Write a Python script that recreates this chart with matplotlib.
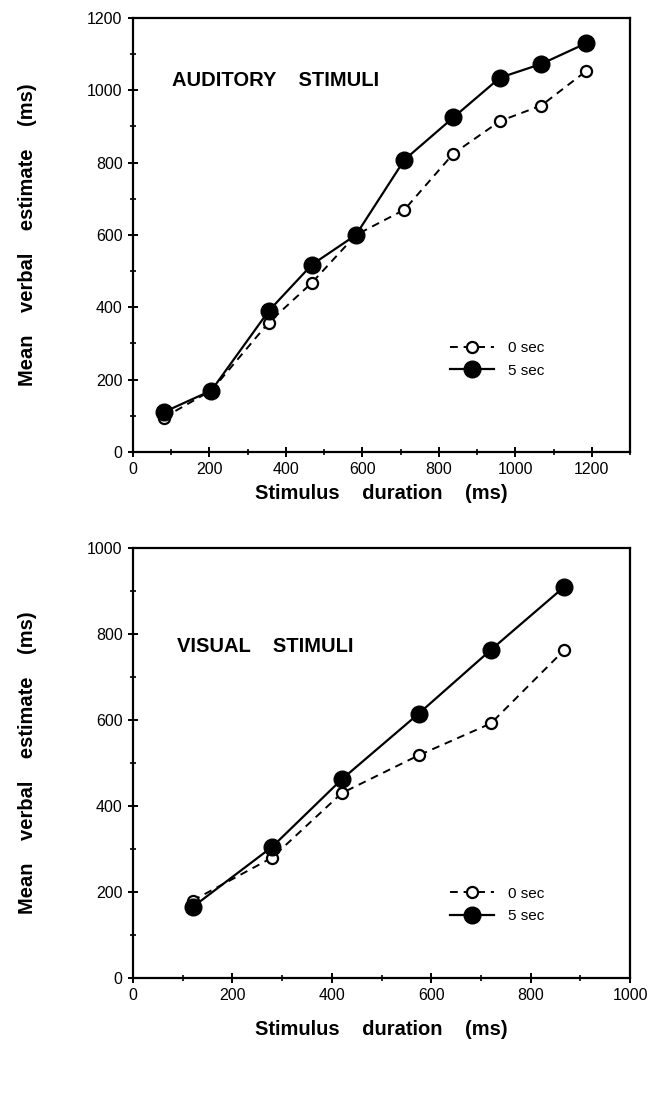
import matplotlib
matplotlib.use("Agg")
import matplotlib.pyplot as plt
from matplotlib.ticker import MultipleLocator

plt.rcParams['font.family'] = ['Liberation Sans', 'DejaVu Sans']

# Auditory stimuli
aud_x = [80, 205, 355, 468, 583, 710, 838, 960, 1068, 1185]
aud_0sec = [95, 170, 358, 468, 600, 670, 825, 915, 958, 1053]
aud_5sec = [110, 170, 390, 518, 600, 808, 925, 1035, 1073, 1130]

# Visual stimuli
vis_x = [120, 280, 420, 575, 720, 868]
vis_0sec = [180, 280, 430, 518, 592, 763]
vis_5sec = [165, 305, 462, 615, 763, 910]

W, H = 661, 1094
fig = plt.figure(figsize=(W / 100, H / 100), dpi=100)

def make_axes(left, top, right, bottom):
    return fig.add_axes([left / W, 1 - bottom / H, (right - left) / W, (bottom - top) / H])

ax1 = make_axes(133, 18, 630, 452)
ax2 = make_axes(133, 548, 630, 978)

def style(ax, xmax, ymax, title, title_pos, leg_anchor, xpad):
    ax.set_xlim(0, xmax)
    ax.set_ylim(0, ymax)
    ax.xaxis.set_major_locator(MultipleLocator(200))
    ax.xaxis.set_minor_locator(MultipleLocator(100))
    ax.yaxis.set_major_locator(MultipleLocator(200))
    ax.yaxis.set_minor_locator(MultipleLocator(100))
    for s in ax.spines.values():
        s.set_linewidth(1.6)
    ax.tick_params(which='major', direction='inout', length=7, width=1.4,
                   labelsize=11.5, pad=4)
    ax.tick_params(which='minor', direction='inout', length=5, width=1.2)
    for lab in ax.get_xticklabels() + ax.get_yticklabels():
        lab.set_fontfamily(['Liberation Sans Narrow', 'Liberation Sans'])
    ax.set_xlabel('Stimulus    duration    (ms)', fontsize=14.5, fontweight='bold', labelpad=xpad)
    ax.set_ylabel('Mean    verbal    estimate    (ms)', fontsize=14.5, fontweight='bold', labelpad=36)
    ax.text(title_pos[0], title_pos[1], title, transform=ax.transAxes,
            fontsize=14.5, fontweight='bold', ha='left', va='center')
    leg = ax.legend(loc='center left', bbox_to_anchor=leg_anchor, frameon=False,
                    handlelength=2.9, handletextpad=0.9, labelspacing=0.55,
                    fontsize=11)
    return leg

for ax, x, y0, y5 in [(ax1, aud_x, aud_0sec, aud_5sec), (ax2, vis_x, vis_0sec, vis_5sec)]:
    ax.plot(x, y0, linestyle=(0, (4, 3)), color='black', linewidth=1.4,
            marker='o', markersize=8, markerfacecolor='white',
            markeredgecolor='black', markeredgewidth=1.6, label='0 sec', zorder=3)
    ax.plot(x, y5, linestyle='-', color='black', linewidth=1.6,
            marker='o', markersize=12, markerfacecolor='black',
            markeredgecolor='black', label='5 sec', zorder=4)

style(ax1, 1300, 1200, 'AUDITORY    STIMULI', (0.078, 0.857), (0.61, 0.213), 5)
style(ax2, 1000, 1000, 'VISUAL    STIMULI', (0.089, 0.77), (0.61, 0.17), 12)

fig.savefig('out.png', dpi=100)
